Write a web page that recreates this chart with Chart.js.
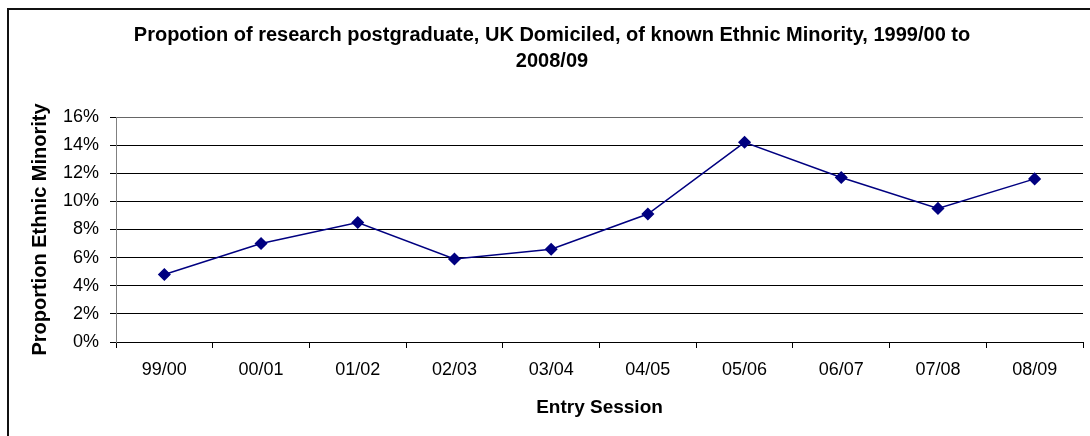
<!DOCTYPE html>
<html>
<head>
<meta charset="utf-8">
<script src="https://cdn.jsdelivr.net/npm/chart.js@4/dist/chart.umd.min.js"></script>
<style>
  html, body { margin: 0; padding: 0; background: #fff; overflow: hidden; }
  #frame {
    position: absolute; left: 7px; top: 8px; width: 2000px; height: 2000px;
    border-left: 2px solid #111; border-top: 2px solid #111;
  }
  #chart { position: absolute; left: 0; top: 0; }
</style>
</head>
<body>
<div id="frame"></div>
<canvas id="chart" width="1105" height="436"></canvas>
<script>
  // chart data
  var sessions = ["99/00", "00/01", "01/02", "02/03", "03/04", "04/05", "05/06", "06/07", "07/08", "08/09"];
  var ethnicShare = [4.8, 7.0, 8.5, 5.9, 6.6, 9.1, 14.2, 11.7, 9.5, 11.6];
  var yTicks = [0, 2, 4, 6, 8, 10, 12, 14, 16];

  var titleLines = [
    "Propotion of research postgraduate, UK Domiciled, of known Ethnic Minority, 1999/00 to",
    "2008/09"
  ];

  var FONT = "'Liberation Sans', Arial, sans-serif";

  var ctx = document.getElementById("chart");
  var myChart = new Chart(ctx, {
    type: "line",
    data: {
      labels: sessions,
      datasets: [
        {
          label: "Proportion Ethnic Minority",
          data: ethnicShare,
          borderColor: "#000080",
          backgroundColor: "#000080",
          borderWidth: 1.5,
          pointStyle: "rectRot",
          pointRadius: 5.5,
          pointHoverRadius: 5.5,
          tension: 0,
          fill: false,
        },
      ],
    },
    options: {
      responsive: false,
      animation: false,
      devicePixelRatio: 1,
      layout: { padding: { left: 21, right: 22, top: 0, bottom: 0 } },
      plugins: {
        legend: { display: false },
        tooltip: { enabled: false },
        title: {
          display: true,
          text: titleLines,
          color: "#000",
          font: { family: FONT, size: 20, weight: "bold", lineHeight: 1.3 },
          padding: { top: 22, bottom: 43 },
        },
      },
      scales: {
        x: {
          offset: true,
          grid: {
            offset: true,
            drawOnChartArea: false,
            color: "#000",
            tickLength: 6,
          },
          border: { display: true, color: "#000" },
          ticks: {
            color: "#000",
            font: { family: FONT, size: 18 },
            padding: 11,
            maxRotation: 0,
          },
          title: {
            display: true,
            text: "Entry Session",
            color: "#000",
            font: { family: FONT, size: 19, weight: "bold" },
            padding: { top: 0, bottom: 17 },
          },
          afterFit: function (scale) {
            scale.height = 94;
          },
        },
        y: {
          min: 0,
          max: 16,
          afterBuildTicks: function (scale) {
            scale.ticks = yTicks.map(function (v) { return { value: v }; });
          },
          grid: {
            color: function (c) { return c.tick && c.tick.value === 16 ? "#666" : "#000"; },
            tickColor: "#000",
            tickLength: 6,
          },
          border: { display: true, color: "#808080" },
          ticks: {
            color: "#000",
            font: { family: FONT, size: 18 },
            padding: 11,
            callback: function (v) { return v + "%"; },
          },
          title: {
            display: true,
            text: "Proportion Ethnic Minority",
            color: "#000",
            font: { family: FONT, size: 20, weight: "bold" },
            padding: { top: 7, bottom: 0 },
          },
          afterFit: function (scale) {
            scale.width = 95;
          },
        },
      },
    },
  });
</script>
</body>
</html>
